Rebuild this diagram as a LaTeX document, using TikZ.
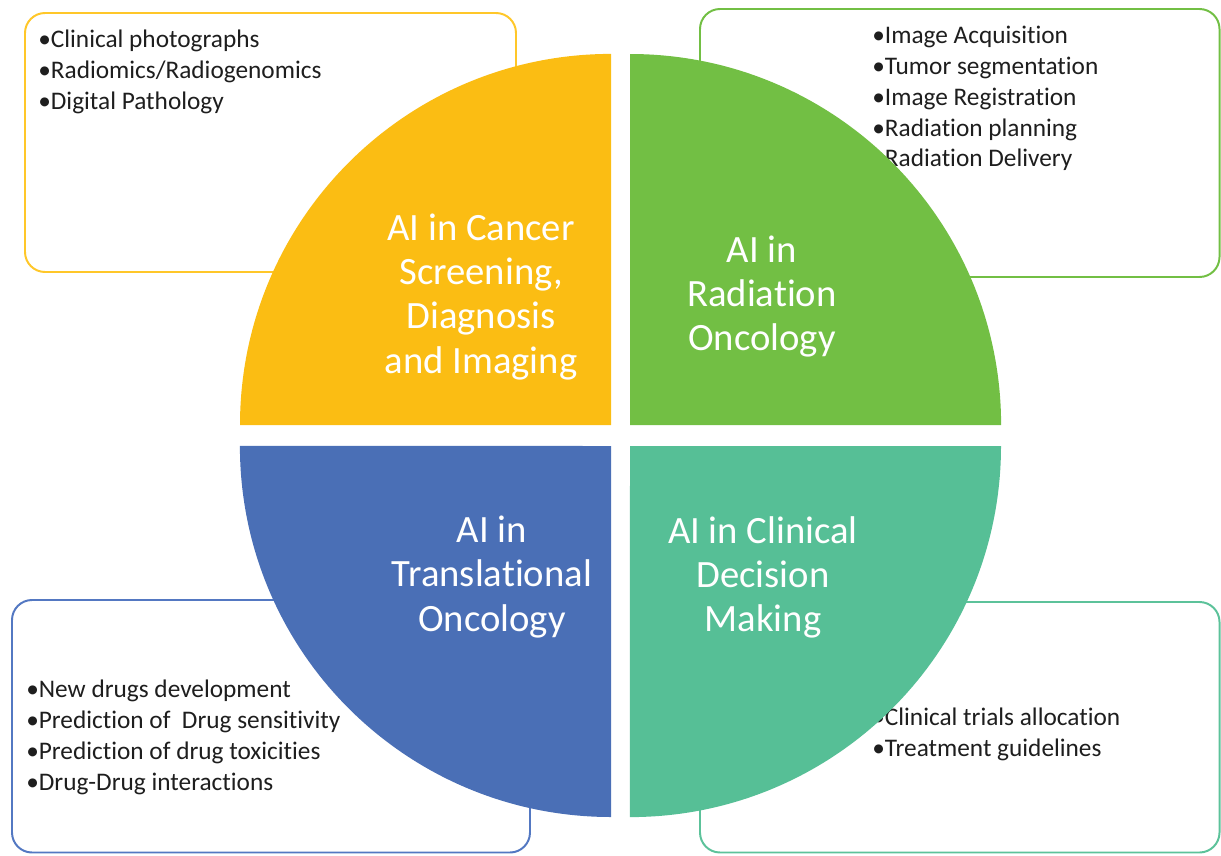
\documentclass[tikz,border=0pt]{standalone}
\usepackage{fontspec}
\setmainfont{Carlito}[Ligatures=NoCommon]
\definecolor{yquad}{HTML}{FBBD13}
\definecolor{gquad}{HTML}{72BF44}
\definecolor{bquad}{HTML}{4A6FB6}
\definecolor{tquad}{HTML}{56BF96}
\definecolor{ybox}{HTML}{FFC729}
\definecolor{gbox}{HTML}{72BF44}
\definecolor{bbox}{HTML}{5378C2}
\definecolor{tbox}{HTML}{5CC29A}
\definecolor{itemtext}{HTML}{1E1E1E}

\begin{document}
\begin{tikzpicture}[x=0.025cm, y=0.025cm,
  infobox/.style={line width=1.4pt, rounded corners=0.5cm, fill=white},
  itemlist/.style={anchor=north west, inner sep=0pt, align=left, text=itemtext,
    font=\fontsize{18}{21.9}\selectfont},
  quadtitle/.style={inner sep=0pt, align=center, text=white,
    font=\fontsize{27.5}{31.3}\selectfont}]
  \useasboundingbox (0,0) rectangle (1221,-855);
  \draw[infobox, draw=ybox] (25,-13) rectangle (516,-272);
  \draw[infobox, draw=gbox] (700,-9) rectangle (1219.5,-277);
  \draw[infobox, draw=bbox] (12,-600) rectangle (530,-852.5);
  \draw[infobox, draw=tbox] (700,-602) rectangle (1219.5,-852.5);
  \node[itemlist] (ylist) at (38,-30) {•Clinical photographs\\•Radiomics/Radiogenomics\\•Digital Pathology};
  \node[itemlist] (glist) at (872,-26) {•Image Acquisition\\•Tumor segmentation\\•Image Registration\\•Radiation planning\\•Radiation Delivery};
  \node[itemlist] (blist) at (26,-680) {•New drugs development\\•Prediction of~~Drug sensitivity\\•Prediction of drug toxicities\\•Drug-Drug interactions};
  \node[itemlist] (tlist) at (872,-708) {•Clinical trials allocation\\•Treatment guidelines};
  \fill[yquad] (611,-425) -- ++(-371,0) arc[start angle=180, end angle=90, radius=9.275cm] -- cycle;
  \fill[gquad] (630,-425) -- ++(0,371) arc[start angle=90, end angle=0, radius=9.275cm] -- cycle;
  \fill[bquad] (611,-446) -- ++(0,-371) arc[start angle=270, end angle=180, radius=9.275cm] -- cycle;
  \fill[tquad] (630,-446) -- ++(371,0) arc[start angle=0, end angle=-90, radius=9.275cm] -- cycle;
  \node[quadtitle] (ytitle) at (481,-297) {AI in Cancer\\Screening,\\Diagnosis\\and Imaging};
  \node[quadtitle] (gtitle) at (762,-297) {AI in\\Radiation\\Oncology};
  \node[quadtitle] (btitle) at (492,-577) {AI in\\Translational\\Oncology};
  \node[quadtitle] (ttitle) at (763,-577) {AI in Clinical\\Decision\\Making};
\end{tikzpicture}
\end{document}
